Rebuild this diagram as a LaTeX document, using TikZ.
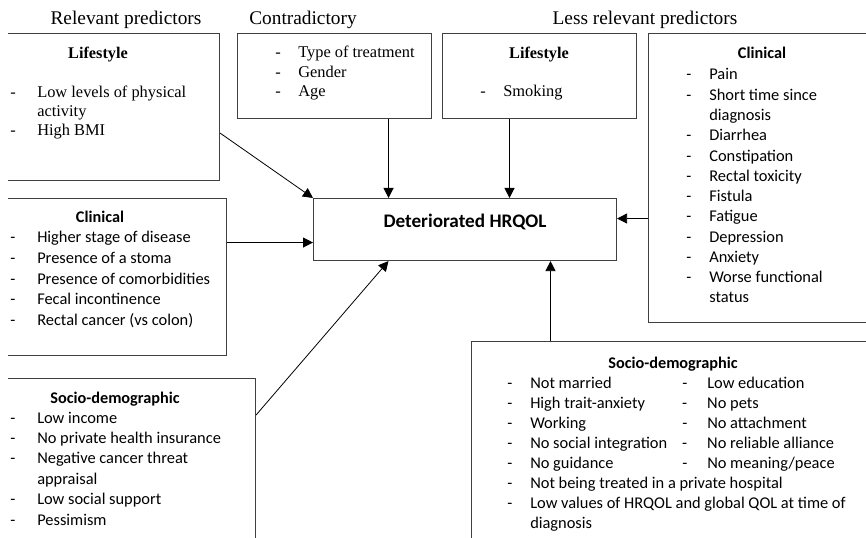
\documentclass[tikz,border=0pt]{standalone}
\usepackage{fontspec}
\usepackage{array}
\setmainfont{Liberation Serif}
\newfontfamily\calfont{Carlito}
\usetikzlibrary{arrows.meta}

\tikzset{
  frame/.style={draw=black!75, line width=0.8pt, anchor=north west, inner sep=0pt},
  arr/.style={-{Triangle[length=7.5pt,width=7.5pt]}, line width=0.6pt},
  coltitle/.style={anchor=base, inner sep=0pt, font=\fontsize{14.5}{17}\selectfont},
  serifhead/.style={anchor=base, inner sep=0pt, font=\bfseries\fontsize{12.2}{14}\selectfont},
  calhead/.style={anchor=base, inner sep=0pt, font=\calfont\bfseries\fontsize{12.2}{15}\selectfont},
  list/.style={anchor=base west, inner sep=0pt}
}

\begin{document}
\begin{tikzpicture}[x=0.75pt,y=-0.75pt]
  \useasboundingbox (0,0) rectangle (866,538);

  % column titles
  \node[coltitle] (relevant) at (126,25) {Relevant predictors};
  \node[coltitle] (contradictory) at (303,25) {Contradictory};
  \node[coltitle] (lessrelevant) at (645,25) {Less relevant predictors};

  % boxes (cut off at the page edges)
  \begin{scope}
    \clip (8,0) rectangle (866,538);
    \node[frame, minimum width=168pt, minimum height=110.25pt] (lifeA) at (-5,33) {};
    \node[frame, minimum width=145.5pt, minimum height=63.75pt] (contra) at (237,33) {};
    \node[frame, minimum width=145.5pt, minimum height=63.75pt] (lifeB) at (442,33) {};
    \node[frame, minimum width=174pt, minimum height=216.75pt] (clinB) at (648,33) {};
    \node[frame, minimum width=173.25pt, minimum height=117.75pt] (clinA) at (-5,198) {};
    \node[frame, minimum width=195pt, minimum height=136.5pt] (socA) at (-5,378) {};
    \node[frame, minimum width=306.75pt, minimum height=164.25pt] (socB) at (471,341) {};
  \end{scope}

  \node[frame, minimum width=227.25pt, minimum height=46.5pt, text height=10pt, text depth=13pt,
        font=\calfont\bfseries\fontsize{14.4}{17}\selectfont] (hrqol) at (313,198) {Deteriorated HRQOL};

  % relevant: lifestyle
  \node[serifhead] (lifeAhead) at (98,59) {Lifestyle};
  \node[list, font=\fontsize{12.3}{13.9}\selectfont] (lifeAlist) at (10,98) {%
    \begin{tabular}[t]{@{}p{20.25pt}@{}l@{}}
      - & Low levels of physical\\
        & activity\\
      - & High BMI
    \end{tabular}};

  % contradictory
  \node[list, font=\fontsize{12.3}{14.6}\selectfont] (contralist) at (275,58) {%
    \begin{tabular}[t]{@{}p{17.25pt}@{}l@{}}
      - & Type of treatment\\
      - & Gender\\
      - & Age
    \end{tabular}};

  % less relevant: lifestyle
  \node[serifhead] (lifeBhead) at (539,59) {Lifestyle};
  \node[list, font=\fontsize{12.3}{14}\selectfont] (lifeBlist) at (480,97) {%
    \begin{tabular}[t]{@{}p{17.25pt}@{}l@{}}
      - & Smoking
    \end{tabular}};

  % less relevant: clinical
  \node[calhead] (clinBhead) at (762,59) {Clinical};
  \node[list, font=\calfont\fontsize{12.3}{15.2}\selectfont] (clinBlist) at (686,80) {%
    \begin{tabular}[t]{@{}p{17.25pt}@{}l@{}}
      - & Pain\\
      - & Short time since\\
        & diagnosis\\
      - & Diarrhea\\
      - & Constipation\\
      - & Rectal toxicity\\
      - & Fistula\\
      - & Fatigue\\
      - & Depression\\
      - & Anxiety\\
      - & Worse functional\\
        & status
    \end{tabular}};

  % relevant: clinical
  \node[calhead] (clinAhead) at (100,223) {Clinical};
  \node[list, font=\calfont\fontsize{12.3}{15.4}\selectfont] (clinAlist) at (10,243) {%
    \begin{tabular}[t]{@{}p{20.25pt}@{}l@{}}
      - & Higher stage of disease\\
      - & Presence of a stoma\\
      - & Presence of comorbidities\\
      - & Fecal incontinence\\
      - & Rectal cancer (vs colon)
    \end{tabular}};

  % relevant: socio-demographic
  \node[calhead] (socAhead) at (115,403) {Socio-demographic};
  \node[list, font=\calfont\fontsize{12.3}{15.3}\selectfont] (socAlist) at (10,423) {%
    \begin{tabular}[t]{@{}p{20.25pt}@{}l@{}}
      - & Low income\\
      - & No private health insurance\\
      - & Negative cancer threat\\
        & appraisal\\
      - & Low social support\\
      - & Pessimism
    \end{tabular}};

  % less relevant: socio-demographic
  \node[calhead] (socBhead) at (673,368) {Socio-demographic};
  \node[list, font=\calfont\fontsize{12.3}{15.1}\selectfont] (socBlist) at (507,388) {%
    \begin{tabular}[t]{@{}p{17.25pt}@{}p{114pt}@{}p{18.75pt}@{}l@{}}
      - & Not married & - & Low education\\
      - & High trait-anxiety & - & No pets\\
      - & Working & - & No attachment\\
      - & No social integration & - & No reliable alliance\\
      - & No guidance & - & No meaning/peace\\
      - & \multicolumn{3}{@{}l@{}}{Not being treated in a private hospital}\\
      - & \multicolumn{3}{@{}l@{}}{Low values of HRQOL and global QOL at time of}\\
        & \multicolumn{3}{@{}l@{}}{diagnosis}
    \end{tabular}};

  % arrows into the outcome
  \coordinate (inA) at ([yshift=-9.75pt]hrqol.west);
  \coordinate (inB) at ([yshift=8.25pt]hrqol.east);
  \coordinate (inD) at ([xshift=64.1pt]hrqol.south);
  \draw[arr] ([yshift=36pt]lifeA.south east) -- (hrqol.north west);
  \draw[arr] ([xshift=40.5pt]contra.south) -- ([xshift=40.5pt]contra.south |- hrqol.north);
  \draw[arr] ([xshift=-22.5pt]lifeB.south) -- ([xshift=-22.5pt]lifeB.south |- hrqol.north);
  \draw[arr] (inB -| clinB.west) -- (inB);
  \draw[arr] (inA -| clinA.east) -- (inA);
  \draw[arr] ([yshift=-27.75pt]socA.north east) -- ([xshift=-57.4pt]hrqol.south);
  \draw[arr] (inD |- socB.north) -- (inD);
\end{tikzpicture}
\end{document}
